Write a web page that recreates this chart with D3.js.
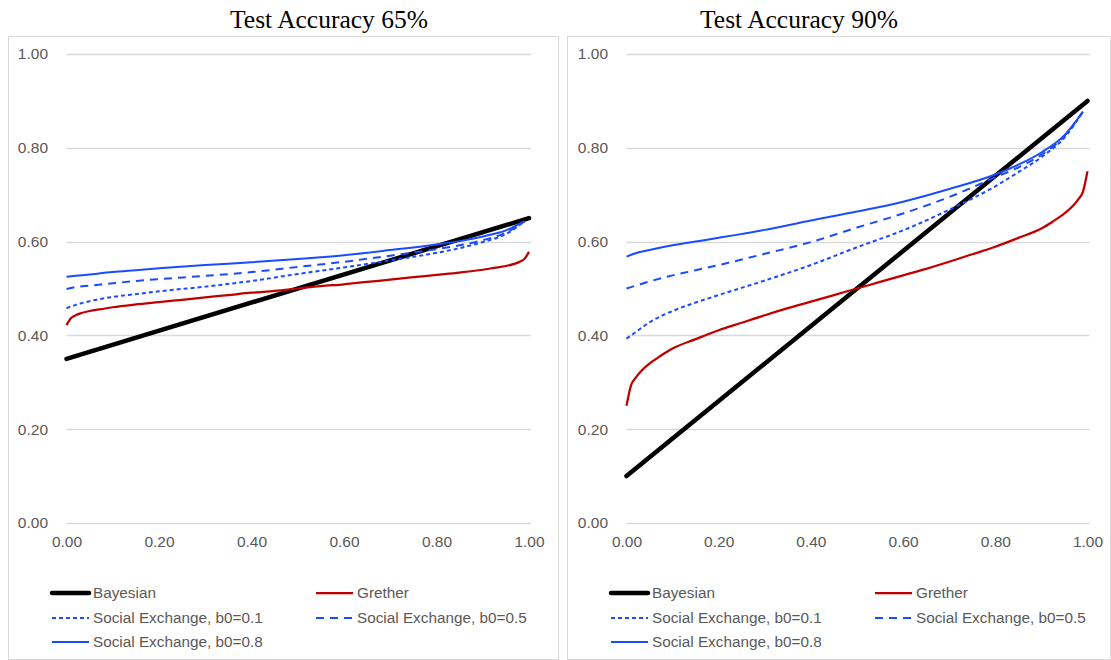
<!DOCTYPE html>
<html>
<head>
<meta charset="utf-8">
<script src="https://cdn.jsdelivr.net/npm/d3@7"></script>
<style>
  html, body { margin: 0; padding: 0; background: #fff; }
  svg { display: block; }
</style>
</head>
<body>
<svg id="chart" width="1111" height="660"></svg>
<script>
// ---------------- DATA ----------------
const panelTitles = ["Test Accuracy 65%", "Test Accuracy 90%"];
const xTicks = [0, 0.2, 0.4, 0.6, 0.8, 1.0];
const yTicks = [0, 0.2, 0.4, 0.6, 0.8, 1.0];
const seriesNames = ["Bayesian", "Grether", "Social Exchange, b0=0.1", "Social Exchange, b0=0.5", "Social Exchange, b0=0.8"];

// x grids
const bayesX = [0, 1];
const gretherX = [0, 0.01, 0.02, 0.03, 0.05, 0.075, 0.1, 0.15, 0.2, 0.25, 0.3, 0.35, 0.4, 0.45, 0.5,
                  0.55, 0.6, 0.65, 0.7, 0.75, 0.8, 0.85, 0.9, 0.925, 0.95, 0.97, 0.98, 0.99, 1.0];
const socialX = [0, 0.02, 0.05, 0.1, 0.15, 0.2, 0.3, 0.4, 0.5, 0.6, 0.7, 0.8, 0.85, 0.9, 0.95, 0.99];

// Test accuracy 65%
const bayes65 = [0.35, 0.65];
const grether65 = [0.422, 0.437, 0.443, 0.447, 0.452, 0.456, 0.46, 0.466, 0.471, 0.476, 0.481, 0.486, 0.491, 0.495, 0.5,
                   0.505, 0.509, 0.514, 0.519, 0.524, 0.529, 0.534, 0.54, 0.544, 0.548, 0.553, 0.557, 0.563, 0.578];
const social01_65 = [0.458, 0.465, 0.473, 0.482, 0.488, 0.494, 0.504, 0.516, 0.531, 0.545, 0.56, 0.576, 0.586, 0.599, 0.616, 0.643];
const social05_65 = [0.499, 0.503, 0.506, 0.511, 0.516, 0.52, 0.527, 0.535, 0.546, 0.557, 0.57, 0.584, 0.592, 0.603, 0.619, 0.643];
const social08_65 = [0.525, 0.527, 0.53, 0.535, 0.539, 0.543, 0.55, 0.556, 0.563, 0.571, 0.582, 0.594, 0.601, 0.611, 0.624, 0.643];

// Test accuracy 90%
const bayes90 = [0.1, 0.9];
const grether90 = [0.25, 0.294, 0.31, 0.322, 0.34, 0.357, 0.372, 0.392, 0.411, 0.427, 0.443, 0.458, 0.472, 0.486, 0.5,
                   0.514, 0.528, 0.542, 0.557, 0.573, 0.589, 0.608, 0.628, 0.643, 0.66, 0.678, 0.69, 0.706, 0.75];
const social01_90 = [0.393, 0.407, 0.428, 0.452, 0.47, 0.486, 0.517, 0.55, 0.588, 0.624, 0.668, 0.718, 0.748, 0.78, 0.822, 0.877];
const social05_90 = [0.5, 0.506, 0.515, 0.528, 0.539, 0.55, 0.574, 0.599, 0.63, 0.66, 0.695, 0.737, 0.758, 0.785, 0.825, 0.877];
const social08_90 = [0.568, 0.575, 0.582, 0.592, 0.6, 0.608, 0.625, 0.645, 0.664, 0.685, 0.712, 0.743, 0.764, 0.79, 0.827, 0.877];

// ---------------- STYLE ----------------
const styles = [
  { color: "#000000", width: 4.5, dash: null },
  { color: "#C00000", width: 2.25, dash: null },
  { color: "#1A4BFF", width: 2, dash: "4,3" },
  { color: "#1A4BFF", width: 2, dash: "8,6" },
  { color: "#1A4BFF", width: 2, dash: null }
];

const panels = [
  { title: panelTitles[0], frame: [8, 36, 558, 659], plotX: [66.5, 529], titleX: 329,
    series: [[bayesX, bayes65], [gretherX, grether65], [socialX, social01_65], [socialX, social05_65], [socialX, social08_65]],
    legendX: [52, 316] },
  { title: panelTitles[1], frame: [567, 36, 1110, 659], plotX: [626.5, 1087.5], titleX: 799,
    series: [[bayesX, bayes90], [gretherX, grether90], [socialX, social01_90], [socialX, social05_90], [socialX, social08_90]],
    legendX: [611, 875] }
];

const svg = d3.select("#chart");
const plotY = [523, 54];
const legendRows = [593, 618, 642];
const tickFont = "'Liberation Sans', Arial, sans-serif";

panels.forEach(p => {
  const g = svg.append("g");
  // frame
  g.append("rect")
    .attr("x", p.frame[0] + 0.5).attr("y", p.frame[1] + 0.5)
    .attr("width", p.frame[2] - p.frame[0]).attr("height", p.frame[3] - p.frame[1])
    .attr("fill", "#fff").attr("stroke", "#D9D9D9").attr("stroke-width", 1);

  // title
  g.append("text")
    .attr("x", p.titleX).attr("y", 28)
    .attr("text-anchor", "middle")
    .attr("font-family", "'Liberation Serif', 'DejaVu Serif', serif")
    .attr("font-size", 25.5)
    .attr("fill", "#000")
    .text(p.title);

  const x = d3.scaleLinear().domain([0, 1]).range(p.plotX);
  const y = d3.scaleLinear().domain([0, 1]).range(plotY);

  // gridlines
  g.append("g").selectAll("line").data(yTicks).join("line")
    .attr("x1", x(0)).attr("x2", x(1) + 2)
    .attr("y1", d => Math.round(y(d)) + 0.5).attr("y2", d => Math.round(y(d)) + 0.5)
    .attr("stroke", "#D9D9D9").attr("stroke-width", 1.3);

  // y axis labels
  const yAxis = d3.axisLeft(y).tickValues(yTicks).tickFormat(d3.format(".2f")).tickSize(0).tickPadding(18.5);
  const ya = g.append("g").attr("transform", `translate(${x(0)},0)`).call(yAxis);
  ya.select(".domain").remove();
  ya.selectAll("text").attr("font-family", tickFont).attr("font-size", 15.5).attr("fill", "#595959");

  // x axis labels
  const xAxis = d3.axisBottom(x).tickValues(xTicks).tickFormat(d3.format(".2f")).tickSize(0).tickPadding(13);
  const xa = g.append("g").attr("transform", `translate(0,${y(0)})`).call(xAxis);
  xa.select(".domain").remove();
  xa.selectAll("text").attr("font-family", tickFont).attr("font-size", 15.5).attr("fill", "#595959");

  // lines
  const line = d3.line().x(d => x(d[0])).y(d => y(d[1])).curve(d3.curveMonotoneX);
  p.series.forEach((s, i) => {
    const pts = s[0].map((xv, k) => [xv, s[1][k]]);
    const st = styles[i];
    g.append("path")
      .datum(pts)
      .attr("d", line)
      .attr("fill", "none")
      .attr("stroke", st.color)
      .attr("stroke-width", st.width)
      .attr("stroke-dasharray", st.dash)
      .attr("stroke-linejoin", "round")
      .attr("stroke-linecap", i === 0 ? "round" : "butt");
  });

  // legend
  const legendPos = [[0, 0], [1, 0], [0, 1], [1, 1], [0, 2]];
  legendPos.forEach((lp, i) => {
    const lx = p.legendX[lp[0]];
    const ly = legendRows[lp[1]];
    const st = styles[i];
    g.append("line")
      .attr("x1", lx).attr("x2", lx + 37)
      .attr("y1", ly).attr("y2", ly)
      .attr("stroke", st.color).attr("stroke-width", st.width)
      .attr("stroke-dasharray", st.dash)
      .attr("stroke-linecap", i === 0 ? "round" : "butt");
    g.append("text")
      .attr("x", lx + 41).attr("y", ly)
      .attr("dy", "0.35em")
      .attr("font-family", tickFont)
      .attr("font-size", 15.3)
      .attr("fill", "#595959")
      .text(seriesNames[i]);
  });
});
</script>
</body>
</html>
